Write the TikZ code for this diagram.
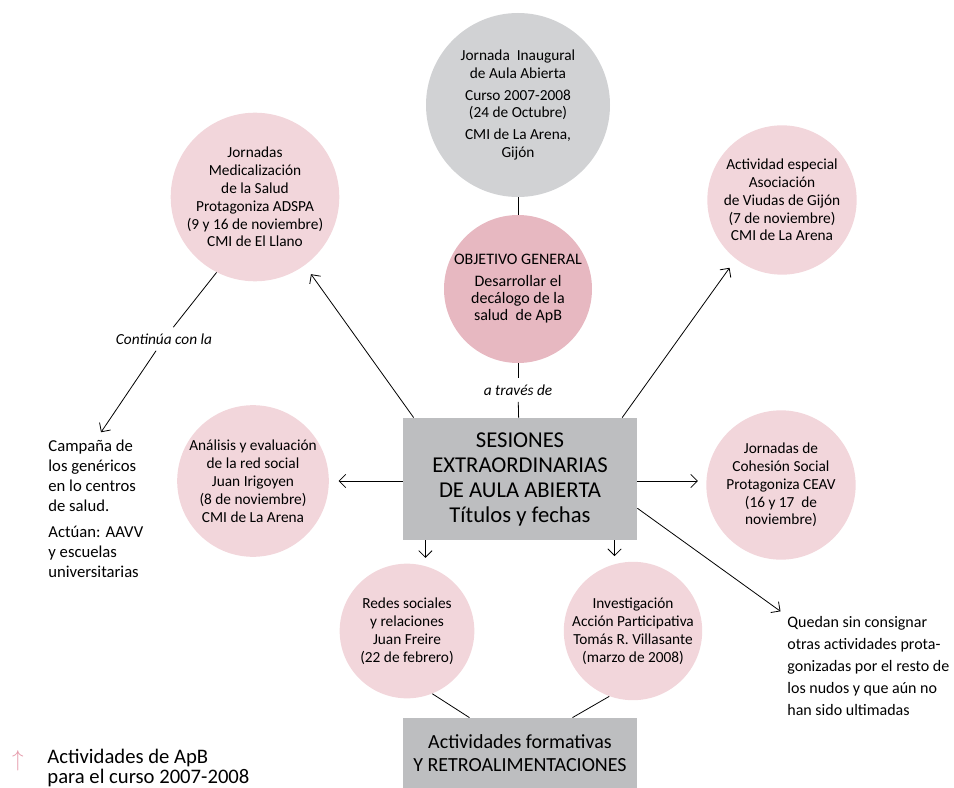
\documentclass[tikz,border=0pt]{standalone}
\usepackage{fontspec}
\setmainfont{Carlito}
\usetikzlibrary{arrows.meta}
\definecolor{pinkact}{HTML}{F2D6DB}
\definecolor{pinkobj}{HTML}{E7B8C1}
\definecolor{graycirc}{HTML}{D1D2D4}
\definecolor{graybox}{HTML}{BDBEC0}
\definecolor{pinkarrow}{HTML}{E59AAA}
\tikzset{
    big circle/.style = {
        shape = circle,
        align = center,
        fill  = #1,
        inner sep = 0pt,
        minimum size = 138pt,
        font = \fontsize{11.5}{13.4}\selectfont
    },
    obj circle/.style = {
        shape = circle,
        align = center,
        fill  = #1,
        inner sep = 0pt,
        minimum size = 111pt,
        font = \fontsize{12}{13}\selectfont
    },
    act circle/.style = {
        shape = circle,
        align = center,
        fill  = #1,
        inner sep = 0pt,
        minimum size = 112pt,
        font = \fontsize{11.5}{13.4}\selectfont
    },
    small circle/.style = {
        shape = circle,
        align = center,
        fill  = #1,
        inner sep = 0pt,
        minimum size = 101pt,
        font = \fontsize{11.5}{13.4}\selectfont
    },
    main box/.style = {
        shape = rectangle,
        align = center,
        fill  = #1,
        minimum width = 175.5pt,
        minimum height = 91.5pt,
        font = \fontsize{17}{18.75}\selectfont
    },
    low box/.style = {
        shape = rectangle,
        align = center,
        fill  = #1,
        minimum width = 175.5pt,
        minimum height = 52.5pt,
        font = \fontsize{15}{17}\selectfont
    },
    note/.style = {
        align = center,
        inner sep = 4.5pt,
        font = \fontsize{11.5}{13}\selectfont\itshape
    },
    side text/.style = {
        align = left,
        inner sep = 0pt,
        font = \fontsize{12.5}{15}\selectfont
    }
}

\begin{document}
\begin{tikzpicture}[x=0.75pt, y=-0.75pt, line width=0.6pt, >={Straight Barb[length=5pt,width=10pt]}]
      \useasboundingbox (0,0) rectangle (954,788);

      \node (inaugural) at (518,105) [big circle = graycirc] {Jornada\ \ Inaugural\\ de Aula Abierta\\[3pt] Curso 2007-2008\\ (24 de Octubre)\\[3pt] CMI de La Arena,\\ Gijón};
      \node (objetivo) at (518,289) [obj circle = pinkobj] {OBJETIVO GENERAL\\[3pt] Desarrollar el\\ decálogo de la\\ salud\ \ de ApB};
      \node (traves) at (518,390) [note] {a través de};
      \node (sesiones) at (520,479) [main box = graybox] {SESIONES\\ EXTRAORDINARIAS\\ DE AULA ABIERTA\\ Títulos y fechas};

      \node (medical) at (255,197) [act circle = pinkact] {Jornadas\\ Medicalización\\ de la Salud\\ Protagoniza ADSPA\\ (9 y 16 de noviembre)\\ CMI de El Llano};
      \node (viudas) at (782,200) [act circle = pinkact] {Actividad especial\\ Asociación\\ de Viudas de Gijón\\ (7 de noviembre)\\ CMI de La Arena};
      \node (analisis) at (253,481) [act circle = pinkact] {Análisis y evaluación\\ de la red social\\ Juan Irigoyen\\ (8 de noviembre)\\ CMI de La Arena};
      \node (cohesion) at (781,485) [act circle = pinkact] {Jornadas de\\ Cohesión Social\\ Protagoniza CEAV\\ (16 y 17\ \ de\\ noviembre)};
      \node (redes) at (407,631) [small circle = pinkact] {Redes sociales\\ y relaciones\\ Juan Freire\\ (22 de febrero)};
      \node (iap) at (633,631) [small circle = pinkact] {Investigación\\ Acción Participativa\\ Tomás R. Villasante\\ (marzo de 2008)};
      \node (formativas) at (520,753) [low box = graybox] {Actividades formativas\\ Y RETROALIMENTACIONES};

      \node (continua) at (164,339) [note] {Continúa con la};
      \node (campana) at (48,440) [side text, anchor=north west] {Campaña de\\ los genéricos\\ en lo centros\\ de salud.\\[4pt] Actúan: AAVV\\ y escuelas\\ universitarias};
      \node (quedan) at (787,616) [side text, anchor=north west, font=\fontsize{12}{16.5}\selectfont] {Quedan sin consignar\\ otras actividades prota-\\gonizadas por el resto de\\ los nudos y que aún no\\ han sido ultimadas};

      % leyenda
      \node (flecha) at (18,761) [text=pinkarrow, font=\fontsize{16}{16}\selectfont] {$\uparrow$};
      \node (leyenda) at (47,749) [side text, anchor=north west, font=\fontsize{15.5}{14.6}\selectfont] {Actividades de ApB\\ para el curso 2007-2008};

      \draw (inaugural) -- (objetivo);
      \draw (objetivo) -- (traves);
      \draw (traves) -- (sesiones);
      \draw[->, shorten >=8pt] (sesiones.150) -- (medical.-54);
      \draw[->, shorten >=8pt] (sesiones.31) -- (viudas.232);
      \draw[->, shorten >=7pt] (sesiones.west |- analisis) -- (analisis.east);
      \draw[->, shorten >=6pt] (sesiones.east |- analisis) -- (sesiones.east |- analisis -| cohesion.west);
      \draw[->, shorten >=4pt] (sesiones.213) -- (sesiones.213 |- redes.north);
      \draw[->, shorten >=4pt] (sesiones.-33) -- (sesiones.-33 |- iap.north);
      \draw (redes.-68) -- (formativas.145);
      \draw (iap.250) -- (formativas.34);
      \draw (medical.243) -- (continua);
      \draw[->, shorten >=7pt] (continua) -- (campana.north);
      \draw[->, shorten >=6pt] (sesiones.-14) -- (quedan.north west);
    \end{tikzpicture}
\end{document}
